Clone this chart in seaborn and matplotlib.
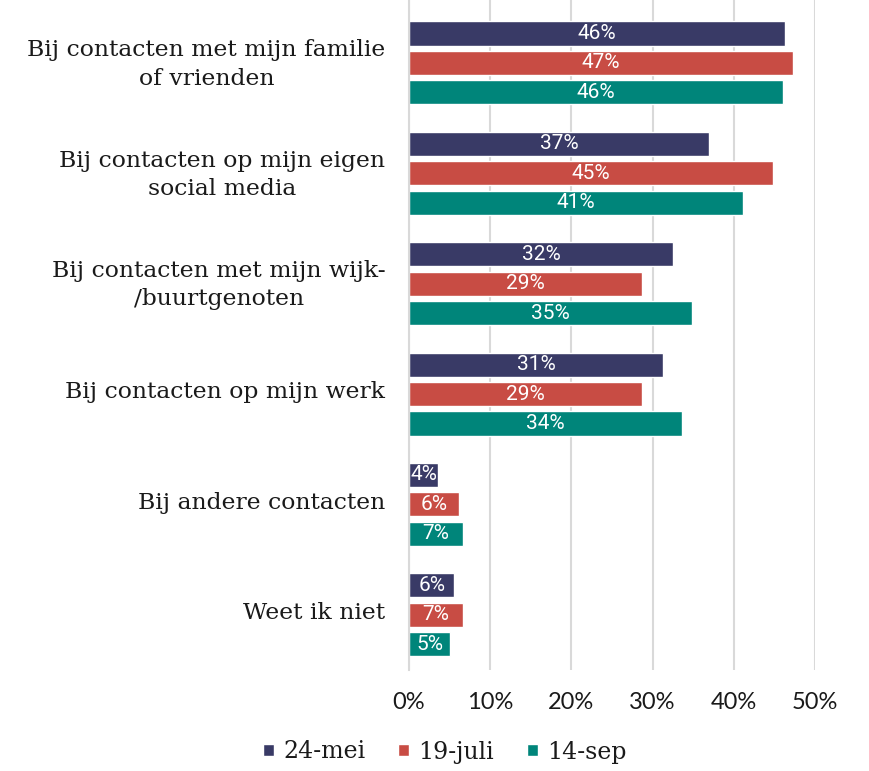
import matplotlib
matplotlib.use("Agg")
import matplotlib.pyplot as plt
import matplotlib.transforms as mtransforms
import seaborn as sns
import pandas as pd

categories = [
    "Bij contacten met mijn familie\nof vrienden",
    "Bij contacten op mijn eigen\nsocial media",
    "Bij contacten met mijn wijk-\n/buurtgenoten",
    "Bij contacten op mijn werk",
    "Bij andere contacten",
    "Weet ik niet",
]
series = ["24-mei", "19-juli", "14-sep"]
mei = [46.3, 36.9, 32.5, 31.3, 3.6, 5.6]
juli = [47.3, 44.8, 28.7, 28.7, 6.2, 6.6]
sep = [46.1, 41.1, 34.9, 33.6, 6.6, 5.1]
xticks = [0, 10, 20, 30, 40, 50]
colors = ["#393a66", "#c84c44", "#00857a"]

rows = []
for s, vals in zip(series, [mei, juli, sep]):
    for c, v in zip(categories, vals):
        rows.append({"categorie": c, "periode": s, "waarde": v})
df = pd.DataFrame(rows)

sns.set_theme(style="white")
fig = plt.figure(figsize=(8.69, 7.71), dpi=100)
ax = fig.add_axes([409 / 869, 1 - 670 / 771, (815 - 409) / 869, 670 / 771])

sns.barplot(data=df, y="categorie", x="waarde", hue="periode", orient="h",
            palette=colors, gap=0.18, width=0.8, ax=ax, saturation=1,
            order=categories, hue_order=series, legend=True)

for cont in ax.containers:
    labels = [f"{b.get_width():.0f}%" for b in cont]
    txts = ax.bar_label(cont, labels=labels, label_type="center", color="white",
                        fontsize=15, fontfamily="Roboto")
    for t, b in zip(txts, cont):
        t.set_clip_path(b)

ax.set_ylim(5.5, -0.57)
ax.set_xlim(0, 50)
ax.set_xticks(xticks)
ax.set_xticklabels([f"{v}%" for v in xticks], fontsize=17, fontfamily="Lato")
ax.set_xlabel("")
ax.set_ylabel("")
ax.xaxis.grid(True, color="#d9d9d9", linewidth=1.5)
ax.set_axisbelow(True)
ax.tick_params(axis="both", length=0)
ax.tick_params(axis="x", pad=16)
ax.tick_params(axis="y", pad=17)
shift = mtransforms.ScaledTranslation(0, 3 / 72, fig.dpi_scale_trans)
for t in ax.get_yticklabels():
    t.set_fontfamily("DejaVu Serif")
    t.set_fontsize(16.9)
    t.set_multialignment("center")
    t.set_linespacing(1.38)
    t.set_color("#1a1a1a")
    t.set_transform(t.get_transform() + shift)
for t in ax.get_xticklabels():
    t.set_color("#1a1a1a")
for sp in ["top", "right", "bottom"]:
    ax.spines[sp].set_visible(False)
ax.spines["left"].set_color("#d9d9d9")
ax.spines["left"].set_linewidth(1.5)

handles, labs = ax.get_legend_handles_labels()
ax.get_legend().remove()
fig.legend(handles, labs, loc="center", bbox_to_anchor=(445 / 869, 1 - 752 / 771),
           ncol=3, frameon=False, handlelength=0.45, handleheight=0.45,
           handletextpad=0.4, columnspacing=1.4, labelcolor="#1a1a1a",
           prop={"family": "DejaVu Serif", "size": 17})

fig.savefig("out.png", dpi=100)
